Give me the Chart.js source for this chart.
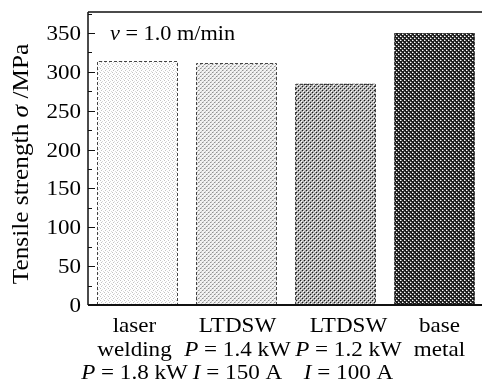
<!DOCTYPE html>
<html>
<head>
<meta charset="utf-8">
<script src="https://cdn.jsdelivr.net/npm/chart.js"></script>
<style>
  html, body { margin: 0; padding: 0; background: #fff; overflow: hidden; }
  #wrap { position: relative; width: 486px; height: 383px; }
</style>
</head>
<body>
<div id="wrap"><canvas id="chart"></canvas></div>
<script>
// data
const categories = [
  ['laser', 'welding', 'P = 1.8 kW'],
  ['LTDSW', 'P = 1.4 kW', 'I = 150 A'],
  ['LTDSW', 'P = 1.2 kW', 'I = 100 A'],
  ['base', 'metal']
];
const strength = [314, 311, 285, 350];
const yTicks = [0, 50, 100, 150, 200, 250, 300, 350];
const yMax = 377;

// small horizontal nudges of the hand-placed category labels
const labelNudge = [-3, 1, 13, 5];
const SERIF = '"Liberation Serif", "DejaVu Serif", serif';

// dotted fill textures, from light to dark
function makePattern(bg, dots) {
  const c = document.createElement('canvas');
  c.width = 4; c.height = 4;
  const g = c.getContext('2d');
  g.fillStyle = bg;
  g.fillRect(0, 0, 4, 4);
  dots.forEach(d => {
    g.fillStyle = d[2];
    g.fillRect(d[0], d[1], 1, 1);
  });
  return g.createPattern(c, 'repeat');
}
const ctxEl = document.getElementById('chart');
const fills = [
  makePattern('#ffffff', [[0,0,'#c4c4c4'],[2,1,'#dcdcdc'],[1,2,'#c4c4c4'],[3,3,'#dcdcdc']]),
  makePattern('#f2f2f2', [[0,0,'#909090'],[1,0,'#c8c8c8'],[2,2,'#909090'],[3,2,'#c8c8c8'],[1,3,'#c8c8c8'],[3,1,'#c8c8c8']]),
  makePattern('#a8a8a8', [[0,0,'#1a1a1a'],[2,2,'#1a1a1a'],[1,1,'#ffffff'],[3,3,'#ffffff'],[2,0,'#d8d8d8'],[0,2,'#d8d8d8']]),
  makePattern('#1c1c1c', [[0,0,'#ffffff'],[2,2,'#ffffff'],[1,0,'#8a8a8a'],[3,2,'#8a8a8a'],[0,3,'#6a6a6a'],[2,1,'#6a6a6a']])
];

// split "P = 1.4 kW" style strings so the symbol is italic
function richParts(text) {
  const m = /^([PIv])( = .*)$/.exec(text);
  return m ? [[m[1], 'italic'], [m[2], 'normal']] : [[text, 'normal']];
}

// draw parts with a slight horizontal stretch (the source font is wide)
function drawParts(ctx, parts, x, y, size, sx, align) {
  ctx.save();
  ctx.translate(x, y);
  ctx.scale(sx, 1);
  ctx.textAlign = 'left';
  let total = 0;
  parts.forEach(p => { ctx.font = p[1] + ' ' + size + 'px ' + SERIF; total += ctx.measureText(p[0]).width; });
  let cx = align === 'left' ? 0 : align === 'right' ? -total : -total / 2;
  parts.forEach(p => {
    ctx.font = p[1] + ' ' + size + 'px ' + SERIF;
    ctx.fillText(p[0], cx, 0);
    cx += ctx.measureText(p[0]).width;
  });
  ctx.restore();
}

const decor = {
  id: 'decor',
  afterDatasetsDraw(chart) {
    const ctx = chart.ctx;
    const meta = chart.getDatasetMeta(0);
    ctx.save();
    ctx.strokeStyle = '#444';
    ctx.lineWidth = 1;
    ctx.setLineDash([3, 2]);
    meta.data.forEach(bar => {
      const p = bar.getProps(['x', 'y', 'base', 'width'], true);
      const l = Math.round(p.x - p.width / 2) + 0.5, r = Math.round(p.x + p.width / 2) - 0.5;
      const t = Math.round(p.y) + 0.5, b = Math.round(p.base);
      ctx.beginPath();
      ctx.moveTo(l, b); ctx.lineTo(l, t); ctx.lineTo(r, t); ctx.lineTo(r, b);
      ctx.stroke();
    });
    ctx.restore();
  },
  afterDraw(chart) {
    const ctx = chart.ctx;
    const a = chart.chartArea;
    const ys = chart.scales.y, xs = chart.scales.x;
    ctx.save();
    ctx.strokeStyle = '#111';
    // frame: left, top, bottom
    ctx.lineWidth = 1.5;
    ctx.beginPath();
    ctx.moveTo(a.left, a.top); ctx.lineTo(a.left, a.bottom);
    ctx.moveTo(a.left, a.top); ctx.lineTo(a.right, a.top);
    ctx.stroke();
    ctx.lineWidth = 2;
    ctx.beginPath();
    ctx.moveTo(a.left, a.bottom); ctx.lineTo(a.right, a.bottom);
    ctx.stroke();
    // inward ticks, major every 50 and minor every 25
    ctx.lineWidth = 1;
    for (let v = 0; v <= yMax; v += 25) {
      const y = Math.round(ys.getPixelForValue(v)) + 0.5;
      const len = v % 50 === 0 ? 7 : 4;
      ctx.beginPath();
      ctx.moveTo(a.left, y); ctx.lineTo(a.left + len, y);
      ctx.stroke();
    }
    ctx.fillStyle = '#000';
    ctx.textBaseline = 'alphabetic';
    // y tick labels
    yTicks.forEach(v => {
      drawParts(ctx, [[String(v), 'normal']], a.left - 7, ys.getPixelForValue(v) + 7, 20, 1.15, 'right');
    });
    // category labels
    categories.forEach((lines, i) => {
      const x = xs.getPixelForValue(i) + labelNudge[i];
      lines.forEach((t, k) => drawParts(ctx, richParts(t), x, a.bottom + 27 + k * 23.5, 22, 1.05, 'center'));
    });
    // annotation
    drawParts(ctx, richParts('v = 1.0 m/min'), 110, 40, 21, 1.06, 'left');
    // axis title, rotated
    ctx.translate(28, 164);
    ctx.rotate(-Math.PI / 2);
    drawParts(ctx, [['Tensile strength ', 'normal'], ['σ', 'italic'], [' /MPa', 'normal']], 0, 0, 23, 1.1, 'center');
    ctx.restore();
  }
};

new Chart(ctxEl, {
  type: 'bar',
  data: {
    labels: categories.map(c => c.join(' ')),
    datasets: [{
      data: strength,
      backgroundColor: fills,
      borderWidth: 0,
      barPercentage: 0.81,
      categoryPercentage: 1.0
    }]
  },
  options: {
    responsive: true,
    maintainAspectRatio: false,
    animation: false,
    layout: { padding: { top: 12, right: 2, left: 0, bottom: 0 } },
    plugins: { legend: { display: false }, tooltip: { enabled: false } },
    scales: {
      x: {
        grid: { display: false },
        border: { display: false },
        ticks: { display: false },
        afterFit: s => { s.height = 78; s.paddingLeft = 0; s.paddingRight = 0; }
      },
      y: {
        min: 0,
        max: yMax,
        grid: { display: false, drawTicks: false },
        border: { display: false },
        ticks: { display: false },
        afterFit: s => { s.width = 88; s.paddingTop = 0; s.paddingBottom = 0; },
        afterBuildTicks: s => { s.ticks = yTicks.map(v => ({ value: v })); }
      }
    }
  },
  plugins: [decor]
});
</script>
</body>
</html>
